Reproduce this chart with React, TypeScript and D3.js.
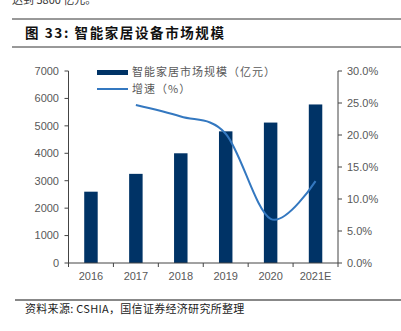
import React from "react";
import * as d3 from "d3";

const categories = ["2016", "2017", "2018", "2019", "2020", "2021E"];
const marketSize = [2600, 3250, 4000, 4800, 5120, 5780];
const growthCats = ["2017", "2018", "2019", "2020", "2021E"];
const growthRate = [24.7, 22.9, 20.2, 6.9, 12.8];
const leftTicks = [0, 1000, 2000, 3000, 4000, 5000, 6000, 7000];
const rightTicks = [0, 5, 10, 15, 20, 25, 30];

const W = 401;
const H = 331;
const plotL = 68.5;
const plotR = 338;
const plotT = 71;
const plotB = 263;
const BAR = "#003366";
const LINE = "#3478C0";
const GRAY = "#595959";
const FONT = "'Liberation Sans', Arial, 'Noto Sans CJK SC', sans-serif";
const CJK = "'Noto Sans CJK SC', 'Liberation Sans', sans-serif";

export default function App() {
  const x = d3.scaleBand().domain(categories).range([plotL, plotR]).paddingInner(0.7).paddingOuter(0.35);
  const xc = (c: string) => (x(c) as number) + x.bandwidth() / 2;
  const yL = d3.scaleLinear().domain([0, 7000]).range([plotB, plotT]);
  const yR = d3.scaleLinear().domain([0, 30]).range([plotB, plotT]);
  const step = (plotR - plotL) / categories.length;
  const boundaries = d3.range(categories.length + 1).map((i) => plotL + i * step);

  const line = d3
    .line<number>()
    .x((_, i) => xc(growthCats[i]))
    .y((d) => yR(d))
    .curve(d3.curveCatmullRom.alpha(0));

  return (
    <svg width={W} height={H} style={{ position: "absolute", left: 0, top: 0, background: "#fff" }}>
      <rect x={0} y={0} width={W} height={H} fill="#fff" />
      <text x={12} y={4} fontFamily={CJK} fontSize={11} fill="#333">达到 5800 亿元。</text>
      <line x1={12} x2={W} y1={19} y2={19} stroke="#333" strokeWidth={1} />
      <text x={25} y={38} fontFamily={CJK} fontSize={13.5} fontWeight="bold" fill="#111" letterSpacing={1.6}>
        图 33:  智能家居设备市场规模
      </text>
      <line x1={12} x2={W} y1={47} y2={47} stroke="#333" strokeWidth={1} />

      {/* bars */}
      {categories.map((c, i) => (
        <rect key={c} x={x(c)} y={yL(marketSize[i])} width={x.bandwidth()} height={plotB - yL(marketSize[i])} fill={BAR} />
      ))}

      {/* line */}
      <path d={line(growthRate) || ""} fill="none" stroke={LINE} strokeWidth={2} />

      {/* left axis */}
      <line x1={plotL} x2={plotL} y1={plotT} y2={plotB} stroke="#444" strokeWidth={1} />
      {leftTicks.map((t) => (
        <g key={t}>
          <line x1={plotL - 4} x2={plotL} y1={yL(t)} y2={yL(t)} stroke="#444" />
          <text x={59} y={yL(t)} dy="0.35em" textAnchor="end" fontFamily={FONT} fontSize={11} fill={GRAY}>
            {t}
          </text>
        </g>
      ))}

      {/* right axis */}
      <line x1={plotR} x2={plotR} y1={plotT} y2={plotB} stroke="#444" strokeWidth={1} />
      {rightTicks.map((t) => (
        <g key={t}>
          <line x1={plotR} x2={plotR + 4} y1={yR(t)} y2={yR(t)} stroke="#444" />
          <text x={347} y={yR(t)} dy="0.35em" textAnchor="start" fontFamily={FONT} fontSize={11} fill={GRAY}>
            {t.toFixed(1) + "%"}
          </text>
        </g>
      ))}

      {/* x axis */}
      <line x1={plotL} x2={plotR} y1={plotB} y2={plotB} stroke="#444" strokeWidth={1} />
      {boundaries.map((b, i) => (
        <line key={i} x1={b} x2={b} y1={plotB} y2={plotB + 4} stroke="#444" />
      ))}
      {categories.map((c) => (
        <text key={c} x={xc(c)} y={280} textAnchor="middle" fontFamily={FONT} fontSize={11} fill={GRAY}>
          {c}
        </text>
      ))}

      {/* legend */}
      <rect x={97} y={70} width={31} height={5} fill={BAR} />
      <text x={132} y={72.5} dy="0.35em" fontFamily={CJK} fontSize={11} fill={GRAY} letterSpacing={1}>
        智能家居市场规模（亿元）
      </text>
      <line x1={97} x2={128} y1={89} y2={89} stroke={LINE} strokeWidth={2} />
      <text x={132} y={89.5} dy="0.35em" fontFamily={CJK} fontSize={11} fill={GRAY} letterSpacing={1}>
        增速（%）
      </text>

      {/* footer */}
      <line x1={15} x2={W} y1={300} y2={300} stroke="#888" strokeWidth={2} />
      <text x={25} y={313} fontFamily={CJK} fontSize={11} fill="#222" letterSpacing={0.3}>
        资料来源: CSHIA，国信证券经济研究所整理
      </text>
    </svg>
  );
}
